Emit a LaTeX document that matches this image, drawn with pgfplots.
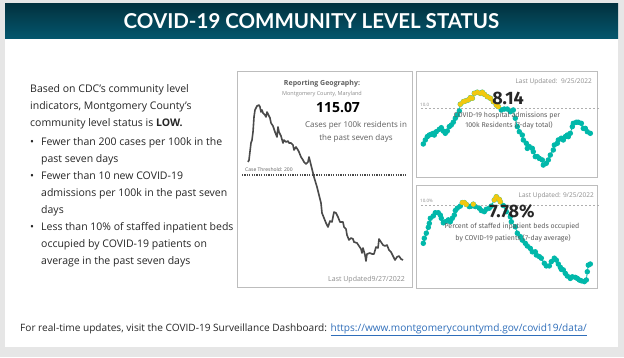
\documentclass[border=0pt]{standalone}
\usepackage{fontspec}
\setmainfont{Open Sans}
\newfontfamily\titlefont{Lato}
\newfontfamily\dinfont{Fira Sans}
\usepackage{pgfplots}
\usepackage{pgfplotstable}
\pgfplotsset{compat=1.18}
\definecolor{bggray}{HTML}{E6E6E6}
\definecolor{bantop}{HTML}{02323F}
\definecolor{banbot}{HTML}{04576E}
\definecolor{txt}{HTML}{262626}
\definecolor{panel}{HTML}{BDBDBD}
\definecolor{caseline}{HTML}{4A4A4A}
\definecolor{pbteal}{HTML}{01B8AA}
\definecolor{pbyellow}{HTML}{F2C80F}
\definecolor{lbl}{HTML}{8C8C8C}
\definecolor{dlbl}{HTML}{5E5E5E}
\definecolor{link}{HTML}{2F6EBA}

% Cases per 100k residents (7-day), day index vs value
\pgfplotstableread{
d v
0 213
1 215
3 232
4 235
5 243
6 258
7 265
9 269
11 270
12 268
13 263
14 265
15 262
17 260
18 258
19 263
20 261
22 257
23 252
25 249
26 246
27 243
29 238
30 248
31 243
33 239
35 232
36 235
38 233
40 234
41 232
43 232
45 230
46 225
48 228
50 225
51 223
53 218
55 215
56 213
58 211
60 213
61 218
63 210
66 198
69 188
71 180
73 172
74 162
76 157
78 152
80 148
82 154
84 153
86 163
88 162
90 158
92 153
95 153
96 148
98 146
99 140
101 135
103 137
105 136
106 133
109 132
111 129
113 126
114 122
115 127
117 120
118 114
119 121
122 122
124 121
126 121
128 128
130 127
131 136
133 133
135 130
137 129
139 130
141 125
143 123
145 119
147 115
149 118
151 119
153 116
155 115
}\cases

% Hospital admissions per 100k (7-day total)
\pgfplotstableread{
d v
0 7.34
2 7.64
4 7.89
6 8.01
8 8.07
10 8.14
11 8.01
13 8.26
16 8.44
18 8.56
20 8.31
22 8.14
24 8.31
26 8.64
28 8.76
30 8.97
32 9.27
34 9.51
36 9.81
37 10.32
40 10.51
42 10.56
45 10.64
47 10.81
49 10.77
51 11.14
54 11.22
57 11.14
59 11.22
61 11.07
64 10.89
67 10.77
70 10.51
73 10.26
75 10.14
78 9.89
81 9.96
84 9.96
87 9.76
90 9.89
92 9.27
94 8.64
96 8.26
99 8.01
100 7.64
103 7.39
104 7.01
106 7.14
109 7.01
110 6.76
112 6.39
114 6.39
116 6.26
119 6.14
120 5.76
123 5.89
125 6.14
127 6.51
130 6.89
131 7.26
134 7.39
135 7.64
138 7.77
140 7.64
142 7.89
144 8.01
145 7.89
147 8.14
149 8.64
150 8.89
153 8.97
155 8.97
158 8.89
160 8.51
162 8.51
164 8.26
167 8.14
}\adm

% Percent of staffed inpatient beds occupied by COVID-19 patients
\pgfplotstableread{
d v
0 8.56
1 8.75
3 8.94
5 9.16
6 9.31
7 9.50
10 9.59
12 9.71
15 9.71
17 9.62
18 9.50
20 9.33
22 9.37
25 9.44
27 9.37
29 9.50
31 9.62
32 9.79
34 9.88
37 9.96
39 10.09
41 10.09
43 10.02
46 9.94
48 9.96
50 10.03
52 9.94
56 9.88
58 9.79
61 9.75
63 9.84
66 9.88
68 9.96
71 10.19
73 10.31
76 10.21
77 10.12
80 9.98
83 9.75
87 9.56
88 9.37
92 9.18
94 8.94
97 8.81
99 8.68
102 8.56
104 8.46
107 8.37
109 8.24
112 8.24
113 8.12
116 8.06
118 8.00
121 7.81
123 7.71
126 7.71
128 7.87
131 8.00
133 7.93
135 7.78
137 7.66
138 7.58
140 7.56
142 7.43
144 7.33
147 7.24
149 7.30
152 7.28
154 7.24
156 7.18
158 7.15
161 7.12
163 7.18
164 7.49
165 7.74
167 7.78
}\beds

\begin{document}
\begin{tikzpicture}
% slide background
\fill[bggray] (0pt,0pt) rectangle (624pt,357pt);
\fill[white] (5pt,10pt) rectangle (618pt,353pt);
\shade[top color=bantop, bottom color=banbot] (5pt,318pt) rectangle (618pt,353pt);
\node[white, font=\titlefont\bfseries\fontsize{20.5}{20.5}\selectfont] at (311.5pt,335.5pt) {COVID-19 COMMUNITY LEVEL STATUS};

% left text
\begin{scope}[every node/.style={anchor=base west, inner sep=0pt, text=txt, font=\fontsize{10.5}{12}\selectfont}]
\node at (30pt,264.5pt) {Based on CDC's community level};
\node at (30pt,247.5pt) {indicators, Montgomery County's};
\node at (30pt,230.5pt) {community level status is \textbf{LOW.}};
\node at (30pt,211.5pt) {\textbullet};
\node at (41pt,211.5pt) {Fewer than 200 cases per 100k in the};
\node at (41pt,194.5pt) {past seven days};
\node at (30pt,177.5pt) {\textbullet};
\node at (41pt,177.5pt) {Fewer than 10 new COVID-19};
\node at (41pt,160.5pt) {admissions per 100k in the past seven};
\node at (41pt,143.5pt) {days};
\node at (30pt,126.5pt) {\textbullet};
\node at (41pt,126.5pt) {Less than 10\% of staffed inpatient beds};
\node at (41pt,109.5pt) {occupied by COVID-19 patients on};
\node at (41pt,92.5pt) {average in the past seven days};
\end{scope}

% footer
\node[anchor=base west, inner sep=0pt, text=txt, font=\fontsize{10.1}{11}\selectfont] at (20pt,26pt)
  {For real-time updates, visit the COVID-19 Surveillance Dashboard: \textcolor{link}{\underline{https://www.montgomerycountymd.gov/covid19/data/}}};

% panels
\draw[panel, line width=0.8pt] (237pt,70pt) rectangle (412pt,286pt);
\draw[panel, line width=0.8pt] (416pt,180pt) rectangle (597pt,286pt);
\draw[panel, line width=0.8pt] (416pt,69pt) rectangle (597pt,172pt);

% cases chart
\begin{axis}[at={(240pt,92pt)}, anchor=south west, scale only axis,
  width=168pt, height=165pt, xmin=-8, xmax=160, ymin=110, ymax=275,
  hide axis, clip=false]
\addplot[draw=caseline, line width=1.3pt, dash pattern=on 1.2pt off 1.2pt] coordinates {(-6,200) (158,200)};
\addplot[draw=caseline, line width=1.6pt, line join=round] table[x=d, y=v] {\cases};
\end{axis}

% admissions chart
\begin{axis}[at={(418.3pt,185pt)}, anchor=south west, scale only axis,
  width=180pt, height=87pt, xmin=-5, xmax=175, ymin=5.2375, ymax=11.7625,
  hide axis, clip=false]
\addplot[draw=lbl!70, line width=0.6pt, dash pattern=on 2pt off 2pt] coordinates {(-2,10) (176,10)};
\addplot[draw=pbteal, line width=0.8pt, mark=*, mark size=2.3pt, mark options={draw=pbteal, fill=pbteal}] table[x=d, y=v] {\adm};
\addplot[only marks, mark=*, mark size=2.3pt, mark options={draw=pbyellow, fill=pbyellow}, restrict y to domain=10:20] table[x=d, y=v] {\adm};
\end{axis}

% beds chart
\begin{axis}[at={(418.3pt,67pt)}, anchor=south west, scale only axis,
  width=180pt, height=100pt, xmin=-5, xmax=175, ymin=6.804, ymax=10.564,
  hide axis, clip=false]
\addplot[draw=lbl!70, line width=0.6pt, dash pattern=on 2pt off 2pt] coordinates {(-2,10) (176,10)};
\addplot[draw=pbteal, line width=0.8pt, mark=*, mark size=2.3pt, mark options={draw=pbteal, fill=pbteal}] table[x=d, y=v] {\beds};
\addplot[only marks, mark=*, mark size=2.3pt, mark options={draw=pbyellow, fill=pbyellow}, restrict y to domain=10:20] table[x=d, y=v] {\beds};
\end{axis}

% middle panel text
\node[text=dlbl, font=\bfseries\fontsize{7}{8}\selectfont] at (322pt,273pt) {Reporting Geography:};
\node[text=lbl, font=\fontsize{5.5}{6}\selectfont] at (322pt,263pt) {Montgomery County, Maryland};
\node[text=black, font=\bfseries\fontsize{14}{15}\selectfont] at (338pt,249pt) {115.07};
\node[text=dlbl, font=\fontsize{8}{9}\selectfont] at (356pt,232pt) {Cases per 100k residents in};
\node[text=dlbl, font=\fontsize{8}{9}\selectfont] at (356pt,219pt) {the past seven days};
\node[anchor=base west, inner sep=0pt, text=dlbl, font=\fontsize{5}{6}\selectfont] at (245pt,186pt) {Case Threshold: 200};
\node[anchor=base east, inner sep=0pt, text=lbl, font=\fontsize{7}{8}\selectfont] at (405pt,76pt) {Last Updated9/27/2022};

% admissions text
\node[anchor=base east, inner sep=0pt, text=lbl, font=\fontsize{6.5}{7}\selectfont] at (592pt,273pt) {Last Updated:\ \ 9/25/2022};
\node[anchor=base west, inner sep=0pt, text=lbl, font=\fontsize{4.5}{5}\selectfont] at (420pt,251pt) {10.0};
\node[text=txt, font=\dinfont\bfseries\fontsize{18}{18}\selectfont] at (508pt,259pt) {8.14};
\node[text=dlbl, font=\dinfont\fontsize{7}{8}\selectfont] at (507pt,241pt) {COVID-19 hospital admissions per};
\node[text=dlbl, font=\dinfont\fontsize{7}{8}\selectfont] at (509pt,232pt) {100k Residents (7-day total)};

% beds text
\node[anchor=base east, inner sep=0pt, text=lbl, font=\fontsize{6.5}{7}\selectfont] at (594pt,160pt) {Last Updated: 9/25/2022};
\node[anchor=base west, inner sep=0pt, text=lbl, font=\fontsize{4.5}{5}\selectfont] at (420pt,155pt) {10.0\%};
\node[text=txt, font=\dinfont\bfseries\fontsize{18}{18}\selectfont] at (512pt,146pt) {7.78\%};
\node[text=dlbl, font=\dinfont\fontsize{7}{8}\selectfont] at (512pt,130pt) {Percent of staffed inpatient beds occupied};
\node[text=dlbl, font=\dinfont\fontsize{7}{8}\selectfont] at (513pt,119pt) {by COVID-19 patients (7-day average)};
\end{tikzpicture}
\end{document}
